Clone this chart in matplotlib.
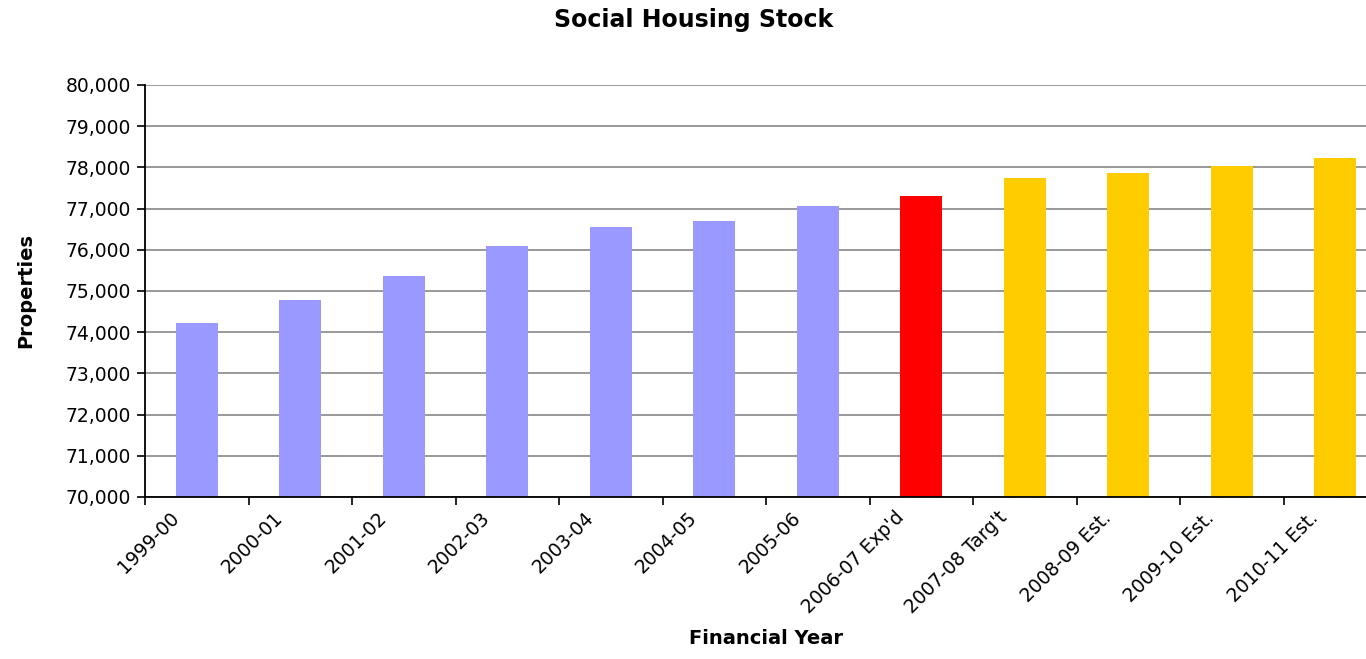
import numpy as np
import matplotlib
matplotlib.use("Agg")
from matplotlib import pyplot as plt
from matplotlib.ticker import FuncFormatter
from matplotlib.transforms import ScaledTranslation

# financial years and stock values
years = ["1999-00", "2000-01", "2001-02", "2002-03", "2003-04", "2004-05",
         "2005-06", "2006-07 Exp'd", "2007-08 Targ't", "2008-09 Est.",
         "2009-10 Est.", "2010-11 Est."]
stock = [74220, 74780, 75360, 76090, 76550, 76700,
         77060, 77300, 77740, 77860, 78030, 78230]
bar_colors = ["#9999FF"] * 7 + ["#FF0000"] + ["#FFCC00"] * 4

plt.rcParams['font.family'] = ['DejaVu Sans']

fig = plt.figure(figsize=(13.66, 6.59), dpi=100)
# plot area runs past the right edge of the picture, like the reference
ax = fig.add_axes([145/1366, (659-497)/659, (1387-145)/1366, (497-85)/659])

x = np.arange(len(years))
ax.bar(x, stock, width=0.41, color=bar_colors, zorder=3)

ax.set_xlim(-0.5, len(years) - 0.5)
ax.set_ylim(70000, 80000)
ax.set_yticks(np.arange(70000, 80001, 1000))
ax.yaxis.set_major_formatter(FuncFormatter(lambda v, p: f"{int(v):,}"))
ax.grid(axis='y', color='#888888', linewidth=1.2, zorder=0)

# labels at category centres, tick marks at category boundaries
ax.set_xticks(x)
ax.set_xticklabels(years, rotation=45, ha='right', rotation_mode='anchor')
ax.set_xticks(np.arange(-0.5, len(years) + 0.5, 1), minor=True)
ax.tick_params(axis='x', which='major', length=0, pad=8, labelsize=13.5)
ax.tick_params(axis='x', which='minor', length=6, width=1.2, color='black')
ax.tick_params(axis='y', length=6, width=1.2, labelsize=13.5, pad=4)
shift = ScaledTranslation(-0.27, 0, fig.dpi_scale_trans)
for lab in ax.get_xticklabels():
    lab.set_transform(lab.get_transform() + shift)

for s in ['top', 'right']:
    ax.spines[s].set_visible(False)
for s in ['left', 'bottom']:
    ax.spines[s].set_linewidth(1.3)
    ax.spines[s].set_zorder(4)

ax.set_ylabel("Properties", fontsize=14, fontweight='bold', labelpad=22)
ax.set_xlabel("Financial Year", fontsize=14, fontweight='bold', labelpad=8)
fig.text(694/1366, 1 - 20/659, "Social Housing Stock", ha='center', va='center',
         fontsize=17, fontweight='bold')

fig.savefig("out.png", dpi=100)
